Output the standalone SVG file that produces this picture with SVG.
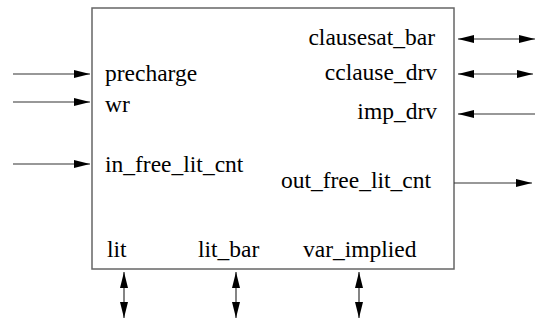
<svg xmlns="http://www.w3.org/2000/svg" width="535" height="322" viewBox="0 0 535 322">
<style>
.t{font-family:"Liberation Serif","Times New Roman",serif;font-size:23.5px;fill:#000}
.r{text-anchor:end}
.c{stroke:#333;stroke-width:1.2;fill:none}
</style>
<defs>
<marker id="ah" viewBox="0 0 16 8" refX="16" refY="4" markerWidth="16" markerHeight="8" markerUnits="userSpaceOnUse" orient="auto-start-reverse">
<path d="M0,0 L16,4 L0,8 Z" fill="#000"/>
</marker>
</defs>
<rect width="535" height="322" fill="#fff"/>
<g id="block">
<rect x="92" y="8" width="362" height="261" fill="#fff" stroke="#666" stroke-width="1.5"/>
</g>
<g id="labels">
<text class="t" x="105" y="81">precharge</text>
<text class="t" x="105" y="112">wr</text>
<text class="t" x="105" y="172">in_free_lit_cnt</text>
<text class="t r" x="435" y="45">clausesat_bar</text>
<text class="t r" x="437" y="80">cclause_drv</text>
<text class="t r" x="437" y="119">imp_drv</text>
<text class="t r" x="431" y="188">out_free_lit_cnt</text>
<text class="t" x="107" y="257">lit</text>
<text class="t" x="198" y="257">lit_bar</text>
<text class="t" x="303" y="257">var_implied</text>
</g>
<g id="connectors">
<line class="c" x1="13" y1="74" x2="90" y2="74" marker-end="url(#ah)"/>
<line class="c" x1="13" y1="102" x2="90" y2="102" marker-end="url(#ah)"/>
<line class="c" x1="13" y1="164" x2="90" y2="164" marker-end="url(#ah)"/>
<line class="c" x1="458" y1="39" x2="535" y2="39" marker-start="url(#ah)" marker-end="url(#ah)"/>
<line class="c" x1="458" y1="74" x2="533" y2="74" marker-start="url(#ah)" marker-end="url(#ah)"/>
<line class="c" x1="458" y1="114" x2="535" y2="114" marker-start="url(#ah)"/>
<line class="c" x1="454" y1="183" x2="532" y2="183" marker-end="url(#ah)"/>
<line class="c" x1="124" y1="272" x2="124" y2="318" marker-start="url(#ah)" marker-end="url(#ah)"/>
<line class="c" x1="236" y1="272" x2="236" y2="318" marker-start="url(#ah)" marker-end="url(#ah)"/>
<line class="c" x1="359" y1="272" x2="359" y2="318" marker-start="url(#ah)" marker-end="url(#ah)"/>
</g>
</svg>
